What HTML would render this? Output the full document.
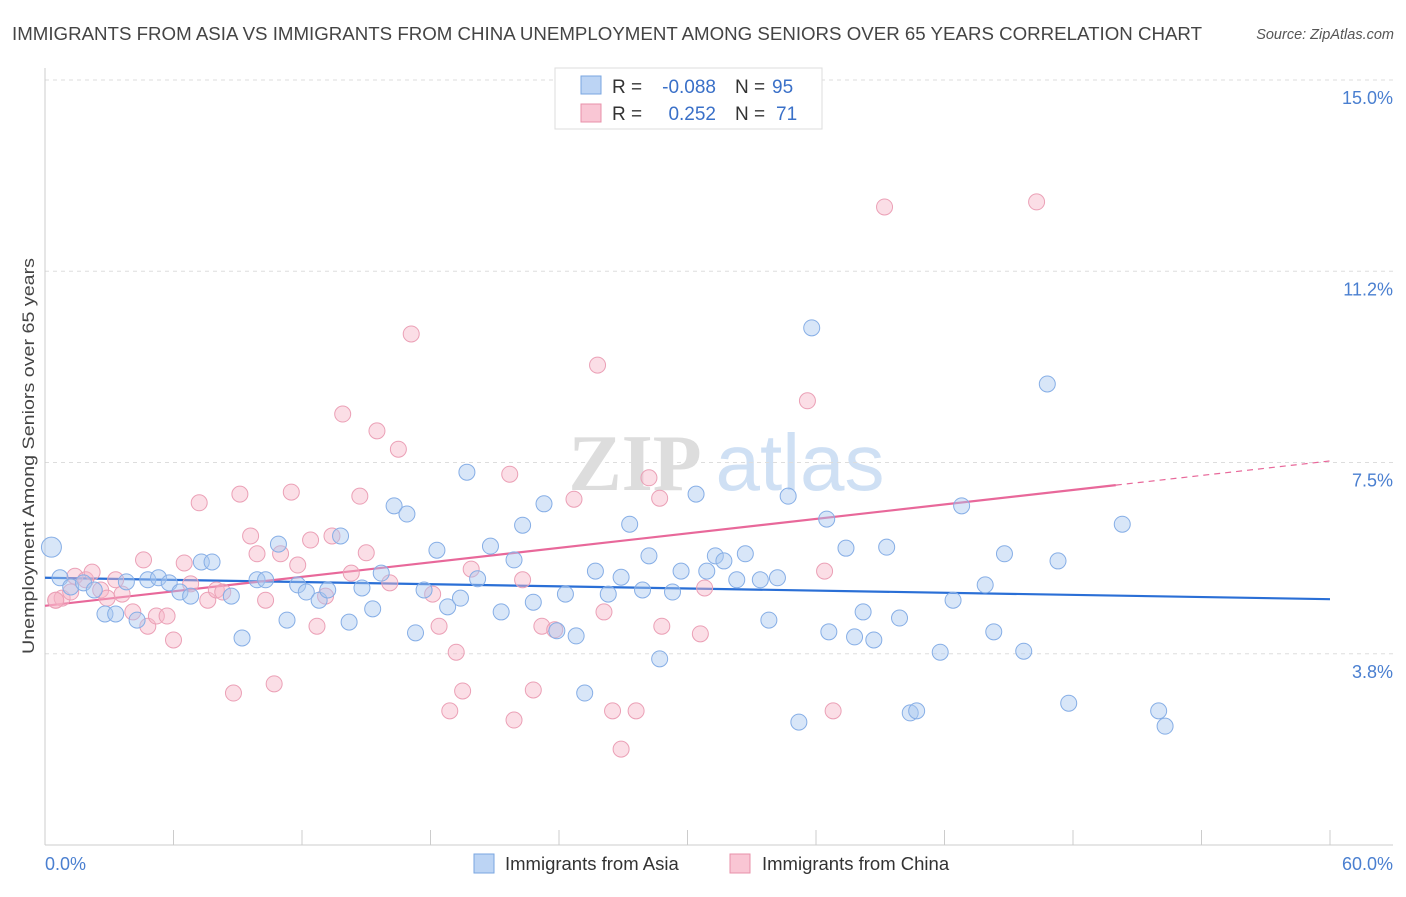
<!DOCTYPE html>
<html><head><meta charset="utf-8"><style>
body{margin:0;background:#fff;width:1406px;height:892px;overflow:hidden;font-family:"Liberation Sans",sans-serif}
</style></head><body>
<svg id="chart" width="1406" height="892" xmlns="http://www.w3.org/2000/svg" font-family="Liberation Sans, sans-serif">
<text x="12" y="40" font-size="18" fill="#444" textLength="1190" lengthAdjust="spacingAndGlyphs">IMMIGRANTS FROM ASIA VS IMMIGRANTS FROM CHINA UNEMPLOYMENT AMONG SENIORS OVER 65 YEARS CORRELATION CHART</text>
<text x="1394" y="39" font-size="14.5" fill="#555" font-style="italic" text-anchor="end">Source: ZipAtlas.com</text>
<g font-size="80" text-anchor="middle">
<text x="635" y="490" fill="#ddd" font-family="Liberation Serif, serif" font-weight="bold">ZIP</text>
<text x="800" y="490" fill="#cfe0f4">atlas</text></g>
<g id="grid"></g><g id="axes"></g><g id="lines"></g><g id="pts"></g>
<text transform="translate(34,456) rotate(-90)" font-size="17" fill="#444" text-anchor="middle" textLength="396" lengthAdjust="spacingAndGlyphs">Unemployment Among Seniors over 65 years</text>
<g font-size="19">
<rect x="555" y="68" width="267" height="61" fill="#fff" stroke="#ddd"/>
<rect x="581" y="76" width="20" height="18" fill="#bcd4f4" stroke="#7aa6e0"/>
<rect x="581" y="104" width="20" height="18" fill="#f9c6d4" stroke="#e890aa"/>
<text x="612" y="93" fill="#333">R =</text>
<text x="716" y="93" fill="#3a70c8" text-anchor="end">-0.088</text>
<text x="735" y="93" fill="#333">N =</text>
<text x="772" y="93" fill="#3a70c8">95</text>
<text x="612" y="120" fill="#333">R =</text>
<text x="716" y="120" fill="#3a70c8" text-anchor="end">0.252</text>
<text x="735" y="120" fill="#333">N =</text>
<text x="776" y="120" fill="#3a70c8">71</text>
</g>
<g font-size="18.5" fill="#333">
<rect x="474" y="854" width="20" height="19" fill="#bcd4f4" stroke="#7aa6e0"/>
<text x="505" y="870">Immigrants from Asia</text>
<rect x="730" y="854" width="20" height="19" fill="#f9c6d4" stroke="#e890aa"/>
<text x="762" y="870">Immigrants from China</text>
</g>
</svg>
<script>
const asiaX=[0.3,0.7,1.2,1.8,2.3,2.8,3.3,3.8,4.3,4.8,5.3,5.8,6.3,6.8,7.3,7.8,8.7,9.2,9.9,10.3,10.9,11.3,11.8,12.2,12.8,13.2,13.8,14.2,14.8,15.3,15.7,16.3,16.9,17.3,17.7,18.3,18.8,19.4,19.7,20.2,20.8,21.3,21.9,22.3,22.8,23.3,23.9,24.3,24.8,25.2,25.7,26.3,26.9,27.3,27.9,28.2,28.7,29.3,29.7,30.4,30.9,31.3,31.7,32.3,32.7,33.4,34.2,34.7,35.2,35.8,36.5,36.6,37.4,37.8,38.2,38.7,39.3,39.9,40.4,40.7,41.8,42.4,42.8,43.9,44.3,44.8,45.7,46.8,47.3,47.8,50.3,52.0,52.3,33.8];
const asiaY=[5.84,5.24,5.06,5.14,5.0,4.53,4.53,5.16,4.41,5.2,5.24,5.14,4.96,4.88,5.55,5.55,4.88,4.06,5.2,5.2,5.9,4.41,5.1,4.96,4.8,5.0,6.06,4.37,5.04,4.63,5.33,6.65,6.49,4.16,5.0,5.78,4.67,4.84,7.31,5.22,5.86,4.57,5.59,6.27,4.76,6.69,4.2,4.92,4.1,2.98,5.37,4.92,5.25,6.29,5.0,5.67,3.65,4.96,5.37,6.88,5.37,5.67,5.57,5.2,5.71,5.2,5.24,6.84,2.41,10.14,6.39,4.18,5.82,4.08,4.57,4.02,5.84,4.45,2.59,2.63,3.78,4.8,6.65,5.1,4.18,5.71,3.8,9.04,5.57,2.78,6.29,2.63,2.33,4.41];
const chinaX=[0.5,0.8,1.2,1.4,1.9,2.2,2.6,2.9,3.3,3.6,4.1,4.6,4.8,5.2,5.7,6.0,6.5,6.8,7.2,7.6,8.0,8.3,8.8,9.1,9.6,9.9,10.3,10.7,11.0,11.5,11.8,12.4,12.7,13.1,13.4,13.9,14.3,14.7,15.0,15.5,16.1,16.5,17.1,18.1,18.4,18.9,19.2,19.5,19.9,21.7,21.9,22.3,22.8,23.2,23.8,24.7,25.8,26.1,26.5,26.9,27.6,28.2,28.7,28.8,30.6,30.8,35.6,36.4,36.8,39.2,46.3,0.5];
const chinaY=[4.8,4.84,4.96,5.27,5.2,5.35,5.0,4.84,5.2,4.92,4.57,5.59,4.29,4.49,4.49,4.02,5.53,5.12,6.71,4.8,5.0,4.96,2.98,6.88,6.06,5.71,4.8,3.16,5.71,6.92,5.49,5.98,4.29,4.88,6.06,8.45,5.33,6.84,5.73,8.12,5.14,7.76,10.02,4.92,4.29,2.63,3.78,3.02,5.41,7.27,2.45,5.2,3.04,4.29,4.22,6.78,9.41,4.57,2.63,1.88,2.63,7.2,6.8,4.29,4.14,5.04,8.71,5.37,2.63,12.51,12.61,4.8];
const yTicks=[3.75,7.5,11.25,15];
const yTickLabels=["3.8%","7.5%","11.2%","15.0%"];
const xTicks=[0,6,12,18,24,30,36,42,48,54,60];
const trendAsia=[5.24,4.82];
const trendChina=[4.69,7.53];
const chinaSolidEnd=50;
const NS="http://www.w3.org/2000/svg";
const X=v=>45+v*(1285/60), Y=v=>845-v*51;
function mk(t,a,p){const e=document.createElementNS(NS,t);for(const k in a)e.setAttribute(k,a[k]);p.appendChild(e);return e;}
const grid=document.getElementById('grid'),axes=document.getElementById('axes'),lines=document.getElementById('lines'),pts=document.getElementById('pts');
yTicks.forEach((v,i)=>{
 const l=mk('line',{x1:45,x2:1393,y1:Y(v),y2:Y(v),stroke:'#ddd','stroke-dasharray':'4,4'},grid);
 
 
 const t=mk('text',{x:1393,y:Y(v)+24,'font-size':18,fill:'#4a7fd0','text-anchor':'end'},axes);t.textContent=yTickLabels[i];
 
 
});
const ya=mk('line',{x1:45,x2:45,y1:68,y2:845,stroke:'#ccc'},axes);


const xa=mk('line',{x1:45,x2:1393,y1:845,y2:845,stroke:'#ccc'},axes);


xTicks.forEach(v=>{const t=mk('line',{x1:X(v),x2:X(v),y1:830,y2:845,stroke:'#ccc'},axes);
 
 });
const x0=mk('text',{x:45,y:870,'font-size':18,fill:'#4a7fd0'},axes);x0.textContent='0.0%';


const x1=mk('text',{x:1393,y:870,'font-size':18,fill:'#4a7fd0','text-anchor':'end'},axes);x1.textContent='60.0%';


function dot(x,y,f,s,r){return mk('circle',{cx:X(x),cy:Y(y),r:r,fill:f,'fill-opacity':0.45,stroke:s,'stroke-width':1},pts);}
chinaX.forEach((x,i)=>{const c=dot(x,chinaY[i],'#f7b6c8','#eba0b6',8);
 
 });
asiaX.forEach((x,i)=>{const c=dot(x,asiaY[i],'#a8c8f0','#86aee6',i==0?10:8);
 
 });
const ta=mk('line',{x1:X(0),y1:Y(trendAsia[0]),x2:X(60),y2:Y(trendAsia[1]),stroke:'#2a6fd6','stroke-width':2.2},lines);


const cy=x=>trendChina[0]+(trendChina[1]-trendChina[0])*x/60;
const tc=mk('line',{x1:X(0),y1:Y(cy(0)),x2:X(chinaSolidEnd),y2:Y(cy(chinaSolidEnd)),stroke:'#e8689a','stroke-width':2.2},lines);


const td=mk('line',{x1:X(chinaSolidEnd),y1:Y(cy(chinaSolidEnd)),x2:X(60),y2:Y(cy(60)),stroke:'#e8689a','stroke-width':1.2,'stroke-dasharray':'6,5'},lines);


</script>
</body></html>
